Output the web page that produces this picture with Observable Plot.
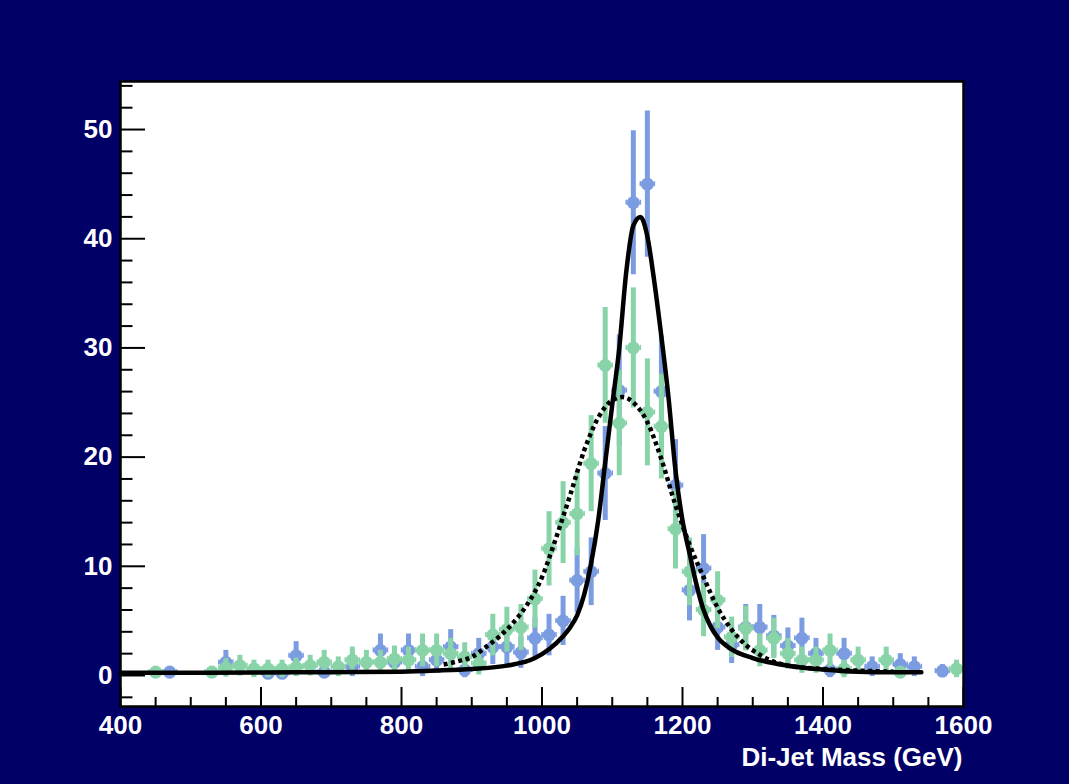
<!DOCTYPE html>
<html>
<head>
<meta charset="utf-8">
<script src="https://cdn.jsdelivr.net/npm/d3@7"></script>
<script src="https://cdn.jsdelivr.net/npm/@observablehq/plot@0.6"></script>
<style>
  html, body { margin: 0; padding: 0; background: #000066; }
  #chart { width: 1069px; height: 784px; overflow: hidden; }
</style>
</head>
<body>
<div id="chart"></div>
<script>
// ---- data ----
const blueMass  = [470, 550, 610, 630, 650, 690, 730, 770, 790, 810, 830, 850, 870, 890, 910, 930, 950, 970, 990, 1010, 1030, 1050, 1070, 1090, 1110, 1130, 1150, 1170, 1190, 1210, 1230, 1250, 1270, 1290, 1310, 1330, 1350, 1370, 1390, 1410, 1430, 1470, 1510, 1530, 1570];
const blueValue = [0.3, 1.2, 0.2, 0.2, 1.8, 0.3, 0.8, 2.3, 1.2, 2.3, 0.8, 1.4, 2.6, 0.5, 2.0, 2.6, 2.6, 2.1, 3.4, 3.7, 5.0, 8.7, 9.5, 18.5, 26.1, 43.3, 45.0, 26.0, 17.4, 7.8, 9.8, 4.4, 2.8, 4.4, 4.4, 3.6, 2.7, 3.4, 2.0, 0.5, 2.0, 0.8, 1.0, 0.8, 0.4];
const blueError = [0.55, 1.1, 0.45, 0.45, 1.3, 0.55, 0.9, 1.5, 1.1, 1.5, 0.9, 1.2, 1.6, 0.7, 1.4, 1.6, 1.6, 1.45, 1.85, 1.9, 2.25, 2.95, 3.1, 4.3, 5.1, 6.6, 6.7, 5.1, 4.2, 2.8, 3.1, 2.1, 1.7, 2.1, 2.1, 1.9, 1.65, 1.85, 1.4, 0.7, 1.4, 0.9, 1.0, 0.9, 0.6];

const greenMass  = [450, 530, 550, 570, 590, 610, 630, 650, 670, 690, 710, 730, 750, 770, 790, 810, 830, 850, 870, 890, 910, 930, 950, 970, 990, 1010, 1030, 1050, 1070, 1090, 1110, 1130, 1150, 1170, 1190, 1210, 1230, 1250, 1270, 1290, 1310, 1330, 1350, 1370, 1390, 1410, 1430, 1450, 1490, 1510, 1590];
const greenValue = [0.3, 0.3, 0.7, 0.9, 0.6, 0.6, 0.6, 0.75, 0.9, 1.2, 0.8, 1.4, 1.2, 1.2, 1.5, 1.4, 2.3, 2.3, 2.0, 1.7, 1.1, 3.7, 4.2, 4.4, 7.0, 11.6, 14.0, 14.8, 19.4, 28.4, 23.1, 30.0, 24.1, 22.8, 13.4, 9.5, 6.0, 6.9, 3.5, 4.3, 2.3, 3.4, 2.0, 1.4, 1.4, 2.3, 0.6, 1.4, 1.4, 0.3, 0.6];
const greenError = [0.55, 0.55, 0.85, 0.95, 0.8, 0.8, 0.8, 0.85, 0.95, 1.1, 0.9, 1.2, 1.1, 1.1, 1.2, 1.2, 1.5, 1.5, 1.4, 1.3, 1.05, 1.9, 2.05, 2.1, 2.65, 3.4, 3.75, 3.85, 4.4, 5.3, 4.8, 5.5, 4.9, 4.8, 3.65, 3.1, 2.45, 2.6, 1.85, 2.05, 1.5, 1.85, 1.4, 1.2, 1.2, 1.5, 0.8, 1.2, 1.2, 0.55, 0.8];

const solidMass  = [400, 500, 600, 700, 800, 850, 900, 950, 990, 1010, 1030, 1040, 1050, 1060, 1070, 1080, 1090, 1100, 1110, 1120, 1130, 1140, 1150, 1160, 1170, 1180, 1190, 1200, 1210, 1220, 1230, 1240, 1250, 1270, 1300, 1350, 1400, 1450, 1500, 1540];
const solidValue = [0.25, 0.25, 0.28, 0.3, 0.35, 0.45, 0.6, 0.9, 1.6, 2.4, 3.6, 4.4, 5.5, 7.4, 10.3, 14.2, 19.5, 24.8, 30.0, 37.0, 41.2, 42.0, 40.2, 36.0, 31.0, 25.5, 18.8, 14.2, 11.2, 8.3, 6.0, 4.5, 3.5, 2.4, 1.6, 0.9, 0.55, 0.35, 0.3, 0.3];

const dottedMass  = [860, 880, 900, 920, 940, 960, 980, 1000, 1020, 1040, 1060, 1080, 1100, 1115, 1130, 1150, 1170, 1190, 1210, 1230, 1250, 1270, 1290, 1310, 1350, 1400, 1450, 1500];
const dottedValue = [1.0, 1.3, 1.7, 2.6, 3.6, 4.9, 6.6, 9.0, 12.6, 16.5, 20.6, 23.6, 25.2, 25.5, 25.0, 23.2, 19.8, 15.6, 12.0, 9.0, 6.2, 4.2, 2.8, 1.9, 0.9, 0.6, 0.45, 0.35];

const xMajorTicks = [400, 600, 800, 1000, 1200, 1400, 1600];
const xMinorTicks = [450, 500, 550, 650, 700, 750, 850, 900, 950, 1050, 1100, 1150, 1250, 1300, 1350, 1450, 1500, 1550];
const yMajorTicks = [0, 10, 20, 30, 40, 50];
const yMinorTicks = [-2, 2, 4, 6, 8, 12, 14, 16, 18, 22, 24, 26, 28, 32, 34, 36, 38, 42, 44, 46, 48, 52, 54];
const xTitle = "Di-Jet Mass (GeV)";

// ---- build tables ----
const blue = blueMass.map((m, i) => ({m, v: blueValue[i], e: blueError[i]}));
const green = greenMass.map((m, i) => ({m, v: greenValue[i], e: greenError[i]}));
const solid = solidMass.map((m, i) => ({m, v: solidValue[i]}));
const dotted = dottedMass.map((m, i) => ({m, v: dottedValue[i]}));

const BLUE = "#7b9ce0";
const GREEN = "#88d4a8";
const FONT = "Liberation Sans, Arial, Helvetica, sans-serif";

function seriesMarks(data, color) {
  return [
    Plot.ruleX(data, {x: "m", y1: d => d.v - d.e, y2: d => d.v + d.e, stroke: color, strokeWidth: 5, strokeLinecap: "butt"}),
    Plot.ruleY(data, {y: "v", x1: d => d.m - 10, x2: d => d.m + 10, stroke: color, strokeWidth: 2}),
    Plot.ruleX(data, {x: d => d.m - 10, y1: "v", y2: "v", insetTop: -2.5, insetBottom: -2.5, stroke: color, strokeWidth: 1.5}),
    Plot.ruleX(data, {x: d => d.m + 10, y1: "v", y2: "v", insetTop: -2.5, insetBottom: -2.5, stroke: color, strokeWidth: 1.5}),
    Plot.dot(data, {x: "m", y: "v", r: 6.5, fill: color, stroke: "none"})
  ];
}

const chart = Plot.plot({
  width: 1069,
  height: 784,
  marginLeft: 120,
  marginRight: 106,
  marginTop: 81,
  marginBottom: 78,
  style: {background: "#000066", fontFamily: FONT},
  x: {domain: [400, 1600], axis: null},
  y: {domain: [-2.84, 54.4], axis: null},
  marks: [
    Plot.frame({fill: "white", stroke: "none"}),
    ...seriesMarks(blue, BLUE),
    ...seriesMarks(green, GREEN),
    Plot.line(dotted, {x: "m", y: "v", stroke: "black", strokeWidth: 4.5, strokeDasharray: "4,3.5", strokeLinecap: "butt", curve: "monotone-x"}),
    Plot.line(solid, {x: "m", y: "v", stroke: "black", strokeWidth: 4.5, curve: "monotone-x"}),
    // ticks (pointing inward)
    Plot.axisY(yMajorTicks, {anchor: "left", tickSize: -25, tickFormat: () => "", stroke: "black", strokeWidth: 2, label: null}),
    Plot.axisY(yMinorTicks, {anchor: "left", tickSize: -12.5, tickFormat: () => "", stroke: "black", strokeWidth: 2, label: null}),
    Plot.axisX(xMajorTicks, {anchor: "bottom", tickSize: -19, tickFormat: () => "", stroke: "black", strokeWidth: 2, label: null}),
    Plot.axisX(xMinorTicks, {anchor: "bottom", tickSize: -9, tickFormat: () => "", stroke: "black", strokeWidth: 2, label: null}),
    // tick labels
    Plot.axisY(yMajorTicks, {anchor: "left", tickSize: 0, tickPadding: 8, tickFormat: d => String(d), fill: "white", fontSize: 26, fontWeight: "bold", label: null}),
    Plot.axisX(xMajorTicks, {anchor: "bottom", tickSize: 0, tickPadding: 9, tickFormat: d => String(d), fill: "white", fontSize: 26, fontWeight: "bold", label: null}),
    Plot.frame({stroke: "black", strokeWidth: 2.5}),
    Plot.text([xTitle], {frameAnchor: "bottom-right", textAnchor: "end", lineAnchor: "bottom", dy: 59, dx: -1, fill: "white", fontSize: 26, fontWeight: "bold"})
  ]
});

document.getElementById("chart").appendChild(chart);
</script>
</body>
</html>
